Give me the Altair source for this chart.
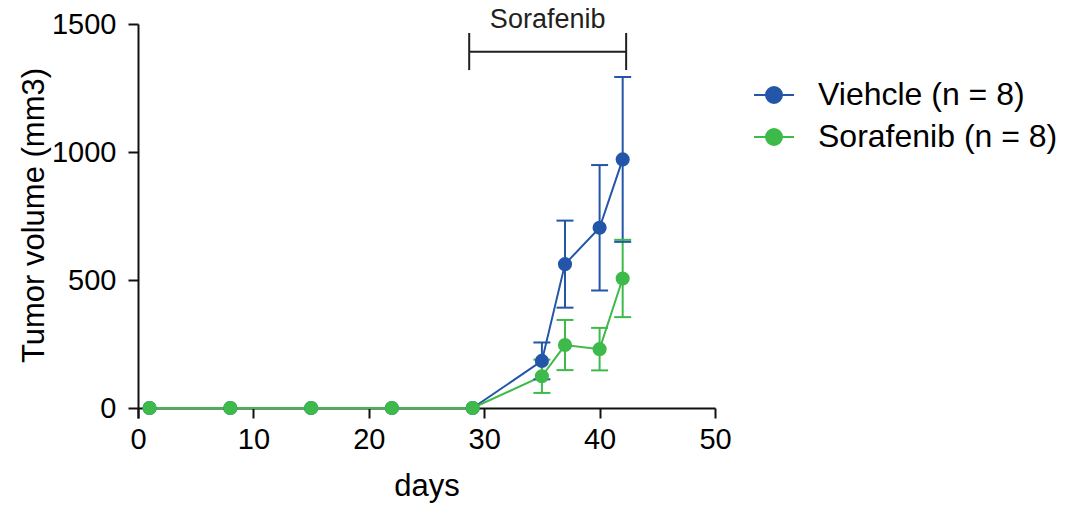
import altair as alt
import pandas as pd

# ---- data ----
days = [1, 8, 15, 22, 29, 35, 37, 40, 42]
vehicle_mean = [0, 0, 0, 0, 0, 184, 562, 704, 971]
vehicle_err = [0, 0, 0, 0, 0, 72, 170, 245, 322]
sorafenib_mean = [0, 0, 0, 0, 0, 124, 246, 230, 506]
sorafenib_err = [0, 0, 0, 0, 0, 65, 98, 83, 151]
series_names = ["Viehcle (n = 8)", "Sorafenib (n = 8)"]
series_colors = ["#2356a8", "#3dba4a"]

x_ticks = [0, 10, 20, 30, 40, 50]
y_ticks = [0, 500, 1000, 1500]

bracket_label = ["Sorafenib"]
bracket_start = [28.7]
bracket_end = [42.3]
bracket_level = [1392]
bracket_tick_low = [1320]
bracket_tick_high = [1465]
bracket_text_level = [1516]

rows = []
for name, means, errs in [(series_names[0], vehicle_mean, vehicle_err),
                          (series_names[1], sorafenib_mean, sorafenib_err)]:
    for d, m, e in zip(days, means, errs):
        rows.append({"day": d, "mean": m, "err": e, "lo": m - e, "hi": m + e, "group": name})
df = pd.DataFrame(rows)

ann = pd.DataFrame({
    "label": bracket_label,
    "start": bracket_start,
    "end": bracket_end,
    "mid": [(a + b) / 2 for a, b in zip(bracket_start, bracket_end)],
    "level": bracket_level,
    "tlo": bracket_tick_low,
    "thi": bracket_tick_high,
    "tlevel": bracket_text_level,
})
ann_ticks = pd.DataFrame({
    "pos": bracket_start + bracket_end,
    "tlo": bracket_tick_low * 2,
    "thi": bracket_tick_high * 2,
})

FONT = "Liberation Sans"
AX = "#111111"
ANN = "#231f20"

xscale = alt.Scale(domain=[0, 50], nice=False, zero=False)
yscale = alt.Scale(domain=[-39, 1500], nice=False, zero=False)

x_axis = alt.Axis(values=x_ticks, title="days", grid=False, offset=-10, format="d",
                  labelFontSize=29, titleFontSize=31, labelFont=FONT, titleFont=FONT,
                  titleFontWeight="normal",
                  labelColor="black", titleColor="black", domainColor=AX, tickColor=AX,
                  domainWidth=2, tickWidth=2, tickSize=10, labelPadding=7,
                  titlePadding=17, labelFlush=False)
y_axis = alt.Axis(values=y_ticks, title="Tumor volume (mm3)", grid=False, format="d",
                  labelFontSize=29, titleFontSize=31, labelFont=FONT, titleFont=FONT,
                  titleFontWeight="normal",
                  labelColor="black", titleColor="black", domainColor=AX, tickColor=AX,
                  domainWidth=2, tickWidth=2, tickSize=10, labelPadding=12,
                  titleX=-95, titleY=191, titleBaseline="alphabetic", titleAngle=270,
                  titleAlign="center", labelFlush=False)

color_scale = alt.Scale(domain=series_names, range=series_colors)

legend = alt.Legend(
    title=None, orient="none", legendX=615, legendY=50,
    symbolType="M-1,0L1,0M-0.4,0A0.4,0.4,0,1,0,0.4,0A0.4,0.4,0,1,0,-0.4,0Z",
    symbolSize=1600, symbolStrokeWidth=2, symbolOpacity=1,
    labelFont=FONT, labelFontSize=32, labelColor="black",
    labelOffset=23, rowPadding=5, labelLimit=400,
)

color_enc = alt.Color("group:N", scale=color_scale, legend=legend)

base = alt.Chart(df)

line = base.mark_line(strokeWidth=2).encode(
    x=alt.X("day:Q", scale=xscale, axis=x_axis),
    y=alt.Y("mean:Q", scale=yscale, axis=y_axis),
    color=color_enc,
    order=alt.Order("day:Q"),
)

err_rule = base.transform_filter("datum.err > 0").mark_rule(strokeWidth=2).encode(
    x="day:Q",
    y="lo:Q",
    y2="hi:Q",
    color=color_enc,
)

cap_hi = base.transform_filter("datum.err > 0").mark_tick(
    orient="horizontal", size=17, thickness=2, opacity=1).encode(
    x="day:Q",
    y="hi:Q",
    color=color_enc,
)
cap_lo = base.transform_filter("datum.err > 0").mark_tick(
    orient="horizontal", size=17, thickness=2, opacity=1).encode(
    x="day:Q",
    y="lo:Q",
    color=color_enc,
)

points = base.mark_point(filled=True, size=200, opacity=1).encode(
    x="day:Q",
    y="mean:Q",
    color=color_enc,
)

ann_rule = alt.Chart(ann).mark_rule(strokeWidth=2, color=ANN).encode(
    x="start:Q", x2="end:Q", y="level:Q")
ann_tick = alt.Chart(ann_ticks).mark_rule(strokeWidth=2, color=ANN).encode(
    x="pos:Q", y="tlo:Q", y2="thi:Q")
ann_text = alt.Chart(ann).mark_text(font=FONT, fontSize=27, color=ANN,
                                    baseline="middle", align="center").encode(
    x="mid:Q", y="tlevel:Q", text="label:N")

chart = alt.layer(line, err_rule, cap_hi, cap_lo, points, ann_rule, ann_tick, ann_text).properties(
    width=577, height=394,
    autosize=alt.AutoSizeParams(type="none"),
    padding={"left": 138, "top": 24, "right": 350, "bottom": 91},
    background="white",
).configure_view(stroke=None)

chart.save("out.html", embed_options={"renderer": "svg", "actions": False})
